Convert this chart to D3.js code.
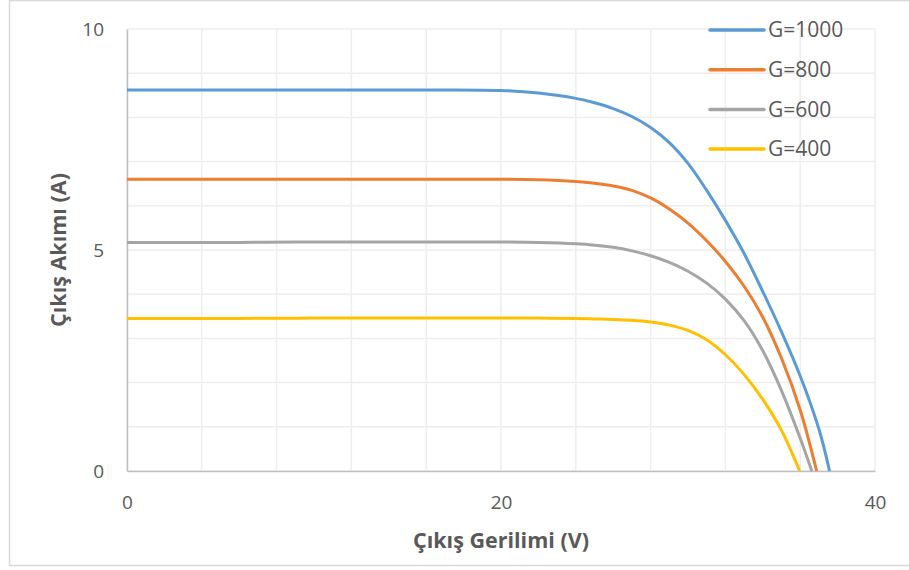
<!DOCTYPE html>
<html>
<head>
<meta charset="utf-8">
<script src="https://cdn.jsdelivr.net/npm/d3@7"></script>
<style>
  html, body { margin: 0; padding: 0; background: #fff; }
  svg { display: block; font-family: "Open Sans", "Noto Sans", sans-serif; }
</style>
</head>
<body>
<svg id="chart" width="909" height="570"></svg>
<script>
// Output voltage (V) sample points for each irradiance level
const voltage1000 = [0, 5, 10, 15, 20, 22, 24, 25, 26, 27, 28, 29, 30, 31, 32, 33, 34, 35, 36, 37, 37.57];
const current1000 = [8.62, 8.62, 8.62, 8.62, 8.61, 8.55, 8.43, 8.33, 8.20, 8.02, 7.77, 7.43, 6.96, 6.35, 5.67, 4.92, 4.06, 3.15, 2.15, 0.95, 0];

const voltage800 = [0, 5, 10, 15, 20, 22, 24, 25, 26, 27, 28, 29, 30, 31, 32, 33, 34, 35, 36, 36.88];
const current800 = [6.60, 6.60, 6.60, 6.60, 6.60, 6.59, 6.55, 6.51, 6.45, 6.35, 6.18, 5.93, 5.61, 5.21, 4.74, 4.18, 3.48, 2.55, 1.38, 0];

const voltage600 = [0, 5, 10, 15, 20, 22, 24, 25, 26, 27, 28, 29, 30, 31, 32, 33, 34, 35, 36, 36.62];
const current600 = [5.17, 5.17, 5.18, 5.18, 5.18, 5.17, 5.14, 5.11, 5.06, 4.98, 4.87, 4.72, 4.52, 4.25, 3.89, 3.40, 2.72, 1.82, 0.74, 0];

const voltage400 = [0, 5, 10, 15, 20, 22, 24, 25, 26, 27, 28, 29, 30, 31, 32, 33, 34, 35, 35.97];
const current400 = [3.45, 3.45, 3.46, 3.46, 3.46, 3.46, 3.45, 3.44, 3.43, 3.41, 3.37, 3.30, 3.18, 2.97, 2.63, 2.18, 1.62, 0.92, 0];

const seriesNames = ["G=1000", "G=800", "G=600", "G=400"];
const seriesColors = ["#5b9bd5", "#ed7d31", "#a5a5a5", "#ffc000"];

const xTickValues = [0, 20, 40];
const yTickValues = [0, 5, 10];
const xGridValues = [0, 4, 8, 12, 16, 20, 24, 28, 32, 36, 40];
const yGridValues = [0, 1, 2, 3, 4, 5, 6, 7, 8, 9, 10];

const xTitle = "Çıkış Gerilimi (V)";
const yTitle = "Çıkış Akımı (A)";

const series = [
  { name: seriesNames[0], color: seriesColors[0], v: voltage1000, i: current1000 },
  { name: seriesNames[1], color: seriesColors[1], v: voltage800, i: current800 },
  { name: seriesNames[2], color: seriesColors[2], v: voltage600, i: current600 },
  { name: seriesNames[3], color: seriesColors[3], v: voltage400, i: current400 }
].map(s => ({ ...s, points: s.v.map((v, k) => [v, s.i[k]]) }));

const svg = d3.select("#chart");
const textColor = "#595959";

// chart frame
svg.append("rect")
  .attr("x", 9.5).attr("y", 0.5)
  .attr("width", 920).attr("height", 565)
  .attr("fill", "#fff").attr("stroke", "#d9d9d9").attr("stroke-width", 1.5);

const x = d3.scaleLinear().domain([0, 40]).range([127, 875]);
const y = d3.scaleLinear().domain([0, 10]).range([471, 29]);

// gridlines
const grid = svg.append("g");
grid.selectAll("line.v").data(xGridValues).join("line")
  .attr("x1", d => x(d)).attr("x2", d => x(d))
  .attr("y1", y(10)).attr("y2", y(0))
  .attr("stroke", "#eeeeee").attr("stroke-width", 1.5);
grid.selectAll("line.h").data(yGridValues).join("line")
  .attr("x1", x(0)).attr("x2", x(40))
  .attr("y1", d => y(d)).attr("y2", d => y(d))
  .attr("stroke", "#eeeeee").attr("stroke-width", 1.5);

// axes
const xAxis = d3.axisBottom(x).tickValues(xTickValues).tickSize(0).tickPadding(24).tickFormat(d3.format("d"));
const yAxis = d3.axisLeft(y).tickValues(yTickValues).tickSize(0).tickPadding(23).tickFormat(d3.format("d"));

const gx = svg.append("g").attr("transform", `translate(0,${y(0)})`).call(xAxis);
const gy = svg.append("g").attr("transform", `translate(${x(0)},0)`).call(yAxis);
[gx, gy].forEach(g => {
  g.select(".domain").attr("stroke", "#bfbfbf").attr("stroke-width", 1.5);
  g.selectAll("text").attr("fill", textColor).attr("font-size", 19)
    .attr("font-family", "'Open Sans', sans-serif");
});
gx.selectAll("text").attr("dy", "0.32em").attr("y", 32);

// curves
const line = d3.line()
  .x(d => x(d[0]))
  .y(d => y(d[1]))
  .curve(d3.curveCatmullRom.alpha(0.5));

svg.append("g").selectAll("path").data(series).join("path")
  .attr("d", d => line(d.points))
  .attr("fill", "none")
  .attr("stroke", d => d.color)
  .attr("stroke-width", 3)
  .attr("stroke-linejoin", "round");

// axis titles
svg.append("text")
  .attr("x", 501).attr("y", 540)
  .attr("text-anchor", "middle").attr("dy", "0.35em")
  .attr("font-size", 21.5).attr("font-weight", "bold").attr("fill", textColor)
  .text(xTitle);

svg.append("text")
  .attr("transform", "translate(58,250) rotate(-90)")
  .attr("text-anchor", "middle").attr("dy", "0.35em")
  .attr("font-size", 21.5).attr("font-weight", "bold").attr("fill", textColor)
  .text(yTitle);

// legend
const legend = svg.append("g");
const legendItems = legend.selectAll("g").data(series).join("g")
  .attr("transform", (d, k) => `translate(710,${30 + k * 39.7})`);
legendItems.append("line")
  .attr("x1", 0).attr("x2", 54).attr("y1", 0).attr("y2", 0)
  .attr("stroke", d => d.color).attr("stroke-width", 3.5).attr("stroke-linecap", "round");
legendItems.append("text")
  .attr("x", 58).attr("dy", "0.35em")
  .attr("font-size", 21).attr("fill", textColor)
  .text(d => d.name);
</script>
</body>
</html>
